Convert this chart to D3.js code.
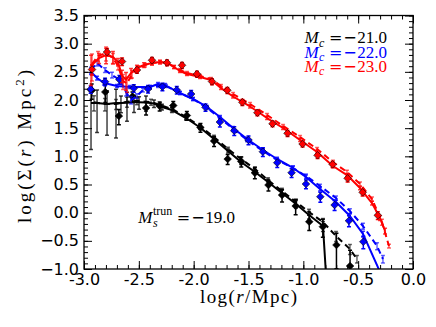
<!DOCTYPE html>
<html><head><meta charset="utf-8">
<script src="https://cdn.jsdelivr.net/npm/d3@7"></script>
<style>body{margin:0;background:#fff} svg{display:block}</style>
</head><body>
<svg id="chart" width="436" height="327"></svg>
<script>
// ---------------- DATA ----------------
// Data points (diamonds): log r, log Sigma, fractional error
const blackX = [-2.930,-2.806,-2.682,-2.558,-2.434,-2.310,-2.186,-2.062,-1.938,-1.814,-1.690,-1.566,-1.442,-1.318,-1.194,-1.070,-0.946,-0.822,-0.698,-0.574];
const blackY = [2.170,2.142,1.716,2.062,1.858,1.893,1.902,1.725,1.512,1.272,0.952,0.908,0.709,0.491,0.313,0.118,-0.161,-0.249,-0.574,-0.947];
const blackF = [0.30,0.35,0.30,0.20,0.25,0.18,0.18,0.18,0.18,0.20,0.20,0.20,0.22,0.22,0.25,0.30,0.30,0.35,0.62,0.90];

const blueX = [-2.939,-2.808,-2.677,-2.546,-2.416,-2.285,-2.154,-2.023,-1.892,-1.761,-1.630,-1.500,-1.369,-1.238,-1.107,-0.976,-0.845,-0.715,-0.584,-0.453];
const blueY = [2.190,2.325,2.364,2.208,2.195,2.236,2.177,2.106,1.870,1.609,1.455,1.290,1.082,0.887,0.709,0.509,0.283,0.136,-0.143,-0.516];
const blueF = [0.15,0.15,0.18,0.15,0.15,0.15,0.15,0.15,0.15,0.18,0.18,0.18,0.18,0.18,0.18,0.18,0.20,0.20,0.22,0.25];

const redX = [-2.927,-2.790,-2.653,-2.517,-2.380,-2.243,-2.106,-1.970,-1.833,-1.693,-1.556,-1.419,-1.281,-1.144,-1.007,-0.870,-0.733,-0.596,-0.459,-0.321];
const redY = [2.541,2.852,2.683,2.532,2.705,2.662,2.616,2.461,2.328,2.172,1.959,1.774,1.579,1.409,1.219,1.018,0.858,0.610,0.361,-0.047];
const redF = [0.20,0.15,0.15,0.12,0.12,0.12,0.12,0.12,0.12,0.12,0.12,0.12,0.12,0.12,0.12,0.12,0.12,0.14,0.14,0.16];

// Model curves: solid and dashed, with fractional errors
const blackSolidX = [-2.936,-2.881,-2.790,-2.708,-2.663,-2.608,-2.544,-2.498,-2.435,-2.362,-2.289,-2.198,-2.070,-1.942,-1.815,-1.687,-1.568,-1.441,-1.322,-1.195,-1.067,-0.948,-0.821,-0.793];
const blackSolidY = [1.947,1.947,1.929,1.947,1.947,1.952,1.959,1.959,1.956,1.938,1.876,1.822,1.680,1.512,1.308,1.095,0.899,0.722,0.544,0.349,0.154,-0.041,-0.237,-1.107];
const blackSolidF = [0.85,0.70,0.72,0.76,0.33,0.53,0.34,0.25,0.30,0.15,0.12,0.10,0.08,0.08,0.10,0.08,0.10,0.10,0.12,0.12,0.15,0.15,0.20,0];
const blackDashX = [-2.909,-2.809,-2.708,-2.608,-2.517,-2.389,-2.307,-2.198,-2.070,-1.942,-1.815,-1.687,-1.568,-1.441,-1.322,-1.195,-1.067,-0.948,-0.821,-0.702,-0.575,-0.511];
const blackDashY = [1.960,1.929,1.929,1.970,1.985,1.964,1.911,1.840,1.698,1.534,1.343,1.130,0.952,0.775,0.580,0.384,0.189,0.012,-0.166,-0.414,-0.646,-0.823];
const blackDashF = [0.30,0.25,0.20,0.20,0.15,0.12,0.10,0.08,0.08,0.08,0.08,0.08,0.10,0.10,0.10,0.12,0.12,0.12,0.15,0.20,0.20,0.15];

const blueSolidX = [-2.936,-2.881,-2.818,-2.699,-2.581,-2.398,-2.325,-2.261,-2.125,-2.006,-1.878,-1.760,-1.641,-1.513,-1.368,-1.240,-1.094,-0.976,-0.848,-0.702,-0.575,-0.456,-0.301];
const blueSolidY = [2.497,2.390,2.302,2.248,2.230,2.230,2.284,2.266,2.124,2.018,1.876,1.698,1.503,1.308,1.112,0.953,0.793,0.633,0.420,0.189,-0.059,-0.378,-1.050];
const blueSolidF = [0.10,0.08,0.08,0.06,0.06,0.06,0.06,0.06,0.06,0.06,0.06,0.06,0.06,0.07,0.07,0.07,0.08,0.08,0.08,0.09,0.10,0.12,0];
const blueDashX = [-2.936,-2.881,-2.809,-2.745,-2.672,-2.617,-2.571,-2.517,-2.462,-2.398,-2.325,-2.252,-2.125,-2.006,-1.878,-1.760,-1.641,-1.513,-1.368,-1.240,-1.094,-0.976,-0.848,-0.702,-0.575,-0.456,-0.328,-0.274];
const blueDashY = [2.532,2.657,2.532,2.444,2.355,2.142,2.000,2.071,2.177,2.230,2.248,2.248,2.124,2.018,1.858,1.680,1.485,1.290,1.094,0.935,0.793,0.651,0.473,0.260,0.029,-0.237,-0.592,-0.823];
const blueDashF = [0.12,0.12,0.10,0.12,0.15,0.15,0.15,0.10,0.08,0.06,0.06,0.06,0.06,0.06,0.06,0.06,0.06,0.07,0.07,0.07,0.08,0.08,0.08,0.09,0.10,0.12,0.14,0.15];

const redSolidX = [-2.936,-2.863,-2.799,-2.736,-2.690,-2.653,-2.617,-2.571,-2.517,-2.453,-2.380,-2.307,-2.243,-2.179,-2.125,-2.061,-1.942,-1.842,-1.751,-1.641,-1.486,-1.331,-1.185,-1.030,-0.875,-0.730,-0.602,-0.483,-0.374,-0.301,-0.255];
const redSolidY = [2.604,2.746,2.799,2.763,2.674,2.430,2.360,2.479,2.568,2.621,2.657,2.674,2.657,2.586,2.515,2.461,2.408,2.355,2.213,2.062,1.885,1.680,1.503,1.290,1.077,0.828,0.668,0.437,0.171,-0.095,-0.325];
const redSolidF = [0.55,0.20,0.30,0.25,0.15,0.25,0.35,0.20,0.12,0.10,0.08,0.08,0.06,0.06,0.06,0.06,0.06,0.06,0.06,0.06,0.06,0.06,0.06,0.06,0.06,0.07,0.07,0.07,0.08,0.10,0.12];
const redDashX = [-2.927,-2.872,-2.799,-2.736,-2.690,-2.644,-2.608,-2.562,-2.508,-2.444,-2.380,-2.307,-2.243,-2.179,-2.125,-2.061,-1.942,-1.842,-1.751,-1.641,-1.486,-1.331,-1.185,-1.030,-0.875,-0.730,-0.602,-0.483,-0.374,-0.283,-0.219];
const redDashY = [2.639,2.781,2.834,2.746,2.604,2.340,2.290,2.461,2.568,2.621,2.657,2.674,2.657,2.586,2.533,2.479,2.426,2.373,2.248,2.106,1.929,1.734,1.538,1.343,1.130,0.899,0.722,0.509,0.242,-0.166,-0.592];
const redDashF = [0.50,0.20,0.28,0.20,0.15,0.30,0.30,0.15,0.10,0.08,0.08,0.06,0.06,0.06,0.06,0.06,0.06,0.06,0.06,0.06,0.06,0.06,0.06,0.06,0.06,0.07,0.07,0.08,0.09,0.12,0.08];

// Axis ticks
const xTicks = [-3,-2.5,-2,-1.5,-1,-0.5,0];
const xTickLabels = ["-3.0","-2.5","-2.0","-1.5","-1.0","-0.5","0.0"];
const yTicks = [-1,-0.5,0,0.5,1,1.5,2,2.5,3,3.5];
const yTickLabels = ["\u22121.0","\u22120.5","0.0","0.5","1.0","1.5","2.0","2.5","3.0","3.5"];

const legendLabels = ["21.0","22.0","23.0"];
const legendColors = ["#000000","#0000ff","#ff0000"];

// ---------------- CHART ----------------
const svg = d3.select('#chart');
const L=84, R=413, T=15.5, B=269;
const x = d3.scaleLinear().domain([-3,0]).range([L,R]);
const y = d3.scaleLinear().domain([-1,3.5]).range([B,T]);
const SERIF = '"Liberation Serif","DejaVu Serif",serif';
const SANS = '"DejaVu Sans",sans-serif';

svg.append('clipPath').attr('id','clip').append('rect')
  .attr('x',L).attr('y',T).attr('width',R-L).attr('height',B-T);
const plot = svg.append('g').attr('clip-path','url(#clip)');

function errBars(g, xs, ys, fs, color, opacity, cap, sw){
  xs.forEach((xv,i)=>{
    const f = fs[i]; if(!f) return;
    const hi = ys[i] + Math.log10(1+f);
    const lo = f < 1 ? ys[i] + Math.log10(1-f) : -5;
    const px = x(xv);
    const eg = g.append('g').attr('stroke',color).attr('stroke-opacity',opacity).attr('stroke-width',sw);
    eg.append('line').attr('x1',px).attr('x2',px).attr('y1',y(hi)).attr('y2',y(lo));
    eg.append('line').attr('x1',px-cap).attr('x2',px+cap).attr('y1',y(hi)).attr('y2',y(hi));
    eg.append('line').attr('x1',px-cap).attr('x2',px+cap).attr('y1',y(lo)).attr('y2',y(lo));
  });
}
const line = d3.line().x(d=>x(d[0])).y(d=>y(d[1]));
function curve(g, xs, ys, color, dash){
  g.append('path').datum(xs.map((v,i)=>[v,ys[i]]))
    .attr('d',line).attr('fill','none').attr('stroke',color).attr('stroke-width',2)
    .attr('stroke-dasharray',dash?'6,4':null).attr('stroke-linejoin','round');
}
function diamonds(g, xs, ys, color){
  const r = 3.8;
  xs.forEach((xv,i)=>{
    const px=x(xv), py=y(ys[i]);
    g.append('path').attr('d',`M${px},${py-r}L${px+r},${py}L${px},${py+r}L${px-r},${py}Z`)
      .attr('fill',color).attr('stroke','#000').attr('stroke-width',0.6);
  });
}

const series = [
  {c:'#000000', sx:blackSolidX, sy:blackSolidY, sf:blackSolidF, dx:blackDashX, dy:blackDashY, df:blackDashF, px:blackX, py:blackY, pf:blackF},
  {c:'#0000ff', sx:blueSolidX, sy:blueSolidY, sf:blueSolidF, dx:blueDashX, dy:blueDashY, df:blueDashF, px:blueX, py:blueY, pf:blueF},
  {c:'#ff0000', sx:redSolidX, sy:redSolidY, sf:redSolidF, dx:redDashX, dy:redDashY, df:redDashF, px:redX, py:redY, pf:redF}
];
series.forEach(s=>{
  const g = plot.append('g');
  errBars(g, s.sx, s.sy, s.sf, s.c, 0.75, 2, 1.5);
  errBars(g, s.dx, s.dy, s.df, s.c, 0.6, 2, 1.5);
  curve(g, s.sx, s.sy, s.c, false);
  curve(g, s.dx, s.dy, s.c, true);
  errBars(g, s.px, s.py, s.pf, s.c, 1, 2, 1.5);
  diamonds(g, s.px, s.py, s.c);
});

// ---------------- AXES ----------------
const minorX = d3.range(-3, 0.0001, 0.1).map(v=>+v.toFixed(2));
const minorY = d3.range(-1, 3.5001, 0.1).map(v=>+v.toFixed(2));
function styleAxis(g){ g.select('.domain').remove(); g.selectAll('line').attr('stroke','#000').attr('stroke-width',1); }

svg.append('g').attr('transform',`translate(0,${B})`)
  .call(d3.axisBottom(x).tickValues(minorX).tickFormat('').tickSize(-4)).call(styleAxis);
svg.append('g').attr('transform',`translate(0,${B})`)
  .call(d3.axisBottom(x).tickValues(xTicks).tickFormat((d,i)=>xTickLabels[i]).tickSize(-8).tickPadding(5))
  .call(styleAxis)
  .selectAll('text').attr('font-family',SANS).attr('font-size',16).attr('fill','#000');
svg.append('g').attr('transform',`translate(0,${T})`)
  .call(d3.axisTop(x).tickValues(minorX).tickFormat('').tickSize(-4)).call(styleAxis);
svg.append('g').attr('transform',`translate(0,${T})`)
  .call(d3.axisTop(x).tickValues(xTicks).tickFormat('').tickSize(-8)).call(styleAxis);

svg.append('g').attr('transform',`translate(${L},0)`)
  .call(d3.axisLeft(y).tickValues(minorY).tickFormat('').tickSize(-4)).call(styleAxis);
svg.append('g').attr('transform',`translate(${L},0)`)
  .call(d3.axisLeft(y).tickValues(yTicks).tickFormat((d,i)=>yTickLabels[i]).tickSize(-8).tickPadding(5))
  .call(styleAxis)
  .selectAll('text').attr('font-family',SANS).attr('font-size',16).attr('fill','#000');
svg.append('g').attr('transform',`translate(${R},0)`)
  .call(d3.axisRight(y).tickValues(minorY).tickFormat('').tickSize(-4)).call(styleAxis);
svg.append('g').attr('transform',`translate(${R},0)`)
  .call(d3.axisRight(y).tickValues(yTicks).tickFormat('').tickSize(-8)).call(styleAxis);

svg.append('rect').attr('x',L).attr('y',T).attr('width',R-L).attr('height',B-T)
  .attr('fill','none').attr('stroke','#000').attr('stroke-width',1.3);

// ---------------- LABELS ----------------
const xl = svg.append('text').attr('x',(L+R)/2).attr('y',303).attr('text-anchor','middle')
  .attr('font-family',SERIF).attr('font-size',19).attr('fill','#000')
  .attr('textLength',97).attr('lengthAdjust','spacing');
xl.append('tspan').text('log(');
xl.append('tspan').attr('font-style','italic').text('r');
xl.append('tspan').text('/Mpc)');

const yl = svg.append('text').attr('transform',`translate(31,146.5) rotate(-90)`).attr('text-anchor','middle')
  .attr('font-family',SERIF).attr('font-size',19).attr('fill','#000')
  .attr('textLength',153).attr('lengthAdjust','spacing');
yl.append('tspan').text('log(\u03A3(');
yl.append('tspan').attr('font-style','italic').text('r');
yl.append('tspan').text(') Mpc');
yl.append('tspan').attr('font-size',13).attr('dy',-7).text('2');
yl.append('tspan').attr('dy',7).text(')');

// legend: M_c = -xx.x, drawn as pieces laid out left to right, right-aligned at 387
function mathLine(x0, yb, color, subText, supText, value, anchorEnd){
  const g = svg.append('g').attr('fill',color);
  let cx = 0;
  const put = (txt, fam, size, style, dy, adv) => {
    const t = g.append('text').attr('x',cx).attr('y',yb+dy).attr('font-family',fam)
      .attr('font-size',size).attr('font-style',style).text(txt);
    const w = t.node().getComputedTextLength();
    if(adv) cx += w;
    return w;
  };
  put('M', SERIF, 17, 'italic', 0, true);
  cx += 0.5;
  let w1 = 0, w2 = 0;
  if(supText){ const s0=cx; w2 = put(supText, SERIF, 12, 'normal', -8.5, false); cx = s0; }
  w1 = put(subText, SERIF, 12, 'italic', 3.5, false);
  cx += Math.max(w1, w2) + 4.5;
  put('=', SANS, 16, 'normal', 0, true);
  cx += 1;
  put('\u2212', SANS, 16, 'normal', 0, true);
  cx += 0.5;
  put(value, SERIF, 17, 'normal', 0, true);
  const total = cx;
  const tx = anchorEnd ? x0 - total : x0;
  g.attr('transform',`translate(${tx},0)`);
}
legendLabels.forEach((lab,i)=> mathLine(387, 43.3+i*14.3, legendColors[i], 'c', null, lab, true));
mathLine(138.3, 223.3, '#000', 's', 'trun', '19.0', false);
</script>
</body></html>
